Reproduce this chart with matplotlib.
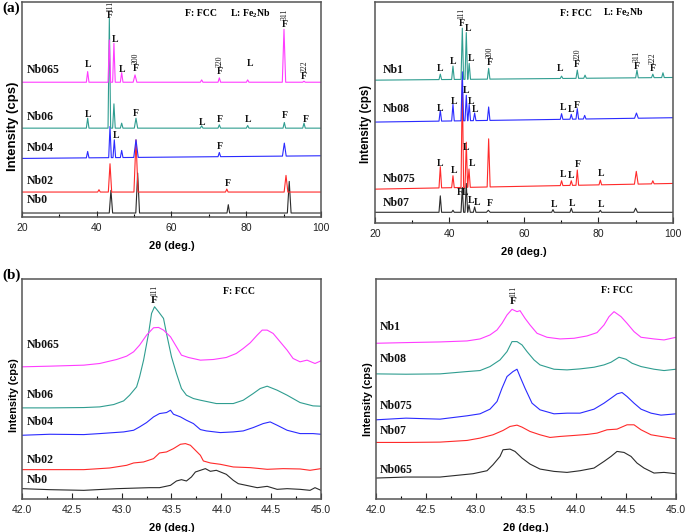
import matplotlib
matplotlib.use("Agg")
import matplotlib.pyplot as plt
from matplotlib.ticker import MultipleLocator, FormatStrFormatter

plt.rcParams["mathtext.fontset"] = "custom"
plt.rcParams["mathtext.rm"] = "Liberation Serif:bold"
plt.rcParams["mathtext.default"] = "rm"

SERIF = "Liberation Serif"
SANS = "Liberation Sans"

# line colours, bottom curve -> top curve
COLORS = ["#2b2b2b", "#ff2a2a", "#2a2aff", "#2f9d90", "#ff3cff"]

# =========================
# 1. DATA  (a) wide scans: baseline (left, right) + peaks (2theta, apex, [half width])
# =========================
A1_NAMES = ["Nb0", "Nb02", "Nb04", "Nb06", "Nb065"]
A1_BASE = [(12, 12), (75, 75), (176, 184), (267, 267), (405, 405)]
A1_PEAKS = [
    [(43.8, 80, 0.45), (50.95, 132, 0.5), (75.2, 37), (91.5, 107, 0.5)],
    [(40.6, 82), (43.55, 160, 0.45), (50.5, 232, 0.55), (74.8, 84), (90.64, 125, 0.5)],
    [(37.57, 197), (43.55, 272), (44.7, 232), (46.67, 200), (50.5, 232, 0.6),
     (72.8, 194), (90.19, 222, 0.5)],
    [(37.57, 297), (43.37, 597), (44.6, 340), (46.67, 282), (50.5, 297, 0.45),
     (68.07, 274), (72.8, 277), (80.38, 275), (90.19, 284), (95.45, 282)],
    [(37.57, 437), (43.37, 532), (44.6, 522), (46.67, 434), (50.24, 427, 0.5),
     (68.07, 412), (72.8, 418), (80.38, 412), (90.1, 564, 0.45), (95.45, 408)],
]

A2_NAMES = ["Nb07", "Nb075", "Nb08", "Nb1"]
A2_BASE = [(32, 32), (101, 118), (301, 314), (426, 434)]
A2_PEAKS = [
    [(37.54, 81), (40.94, 38), (43.45, 106), (44.52, 118), (45.24, 54), (46.76, 48),
     (50.43, 38, 0.5), (67.79, 40), (72.71, 44), (80.5, 38), (89.98, 44, 0.5)],
    [(37.54, 168), (40.94, 141), (43.45, 426), (44.52, 241), (45.24, 161),
     (50.52, 251, 0.4), (70.1, 126), (72.7, 126), (74.32, 158), (80.5, 128),
     (90.16, 154, 0.5), (94.6, 126)],
    [(37.54, 336), (40.94, 354), (43.45, 451), (44.52, 381), (45.3, 354), (46.76, 328),
     (50.52, 346), (70.1, 326), (72.7, 324), (74.32, 341), (76.3, 321), (90.2, 328, 0.5)],
    [(37.54, 444), (40.94, 468), (43.45, 581), (44.52, 568), (45.3, 476), (50.52, 461),
     (70.1, 438), (74.32, 456), (76.4, 441), (90.34, 456), (94.6, 444), (97.32, 448)],
]

# =========================
# 2. DATA  (b) zoom on the 111 peak: (2theta, intensity) traces
# =========================
B1_NAMES = ["Nb0", "Nb02", "Nb04", "Nb06", "Nb065"]
B1_X = [
    [42.00, 42.28, 42.62, 42.95, 43.28, 43.38, 43.49, 43.55, 43.60, 43.65, 43.70, 43.74, 43.79,
     43.84, 43.89, 43.95, 44.05, 44.12, 44.17, 44.25, 44.36, 44.46, 44.56, 44.66, 44.79, 44.89,
     44.94, 45.00],
    [42.00, 42.28, 42.62, 42.88, 43.05, 43.12, 43.22, 43.32, 43.38, 43.45, 43.52, 43.59, 43.64,
     43.69, 43.74, 43.79, 43.82, 43.89, 43.99, 44.12, 44.29, 44.46, 44.62, 44.79, 44.89, 45.00],
    [42.00, 42.28, 42.62, 42.78, 43.02, 43.12, 43.18, 43.25, 43.32, 43.38, 43.45, 43.49, 43.52,
     43.59, 43.65, 43.72, 43.79, 43.85, 43.99, 44.12, 44.22, 44.32, 44.42, 44.49, 44.56, 44.66,
     44.79, 44.92, 45.00],
    [42.00, 42.28, 42.62, 42.78, 42.92, 43.02, 43.08, 43.15, 43.18, 43.22, 43.27, 43.30, 43.33,
     43.37, 43.42, 43.45, 43.50, 43.55, 43.60, 43.65, 43.72, 43.79, 43.95, 44.12, 44.22, 44.32,
     44.39, 44.46, 44.56, 44.66, 44.79, 44.92, 45.00],
    [42.00, 42.28, 42.62, 42.78, 42.95, 43.05, 43.12, 43.18, 43.25, 43.32, 43.37, 43.42, 43.49,
     43.55, 43.60, 43.67, 43.79, 43.92, 44.05, 44.15, 44.22, 44.29, 44.36, 44.41, 44.46, 44.52,
     44.59, 44.66, 44.72, 44.79, 44.86, 44.94, 45.00],
]
B1_Y = [
    [31, 28, 26, 31, 34, 34, 41, 54, 58, 54, 66, 81, 86, 91, 83, 86, 74, 56, 46, 41, 34, 38, 29,
     31, 29, 26, 34, 26],
    [88, 88, 88, 93, 101, 108, 111, 121, 138, 141, 151, 164, 166, 161, 146, 131, 114, 108, 104,
     96, 94, 89, 91, 90, 86, 91],
    [191, 194, 193, 196, 201, 206, 216, 229, 246, 256, 259, 266, 254, 246, 236, 226, 208, 204,
     199, 201, 204, 214, 226, 231, 221, 206, 196, 196, 194],
    [273, 273, 274, 276, 283, 294, 311, 336, 366, 416, 496, 556, 576, 561, 541, 496, 426, 376,
     331, 311, 301, 296, 286, 286, 296, 316, 331, 338, 326, 311, 289, 279, 278],
    [396, 398, 401, 406, 418, 428, 441, 461, 491, 513, 514, 506, 486, 456, 431, 424, 416, 418,
     424, 436, 451, 468, 491, 506, 506, 496, 471, 446, 421, 411, 416, 406, 414],
]

B2_NAMES = ["Nb065", "Nb07", "Nb075", "Nb08", "Nb1"]
B2_X = [
    [42.00, 42.30, 42.64, 42.97, 43.11, 43.17, 43.24, 43.27, 43.34, 43.39, 43.46, 43.54, 43.64,
     43.78, 43.91, 44.04, 44.18, 44.28, 44.35, 44.41, 44.48, 44.55, 44.61, 44.68, 44.78, 44.88,
     45.00],
    [42.00, 42.30, 42.64, 42.91, 43.04, 43.17, 43.27, 43.34, 43.41, 43.46, 43.54, 43.64, 43.74,
     43.84, 43.98, 44.11, 44.21, 44.31, 44.41, 44.51, 44.58, 44.65, 44.75, 44.85, 45.00],
    [42.00, 42.30, 42.64, 42.91, 43.04, 43.14, 43.21, 43.26, 43.31, 43.37, 43.41, 43.44, 43.49,
     43.56, 43.64, 43.78, 43.91, 44.04, 44.18, 44.28, 44.35, 44.41, 44.46, 44.51, 44.58, 44.65,
     44.75, 44.85, 45.00],
    [42.00, 42.30, 42.64, 42.91, 43.04, 43.14, 43.24, 43.31, 43.36, 43.41, 43.46, 43.51, 43.58,
     43.64, 43.78, 43.91, 44.04, 44.18, 44.28, 44.35, 44.43, 44.50, 44.56, 44.65, 44.78, 44.88,
     45.00],
    [42.00, 42.30, 42.64, 42.91, 43.04, 43.14, 43.21, 43.26, 43.31, 43.36, 43.41, 43.44, 43.49,
     43.54, 43.61, 43.71, 43.84, 43.98, 44.11, 44.21, 44.28, 44.33, 44.38, 44.45, 44.51, 44.58,
     44.65, 44.78, 44.88, 45.00],
]
B2_Y = [
    [63, 66, 66, 76, 85, 103, 128, 148, 150, 143, 123, 105, 90, 83, 80, 85, 93, 113, 128, 143,
     140, 128, 108, 93, 78, 80, 76],
    [170, 170, 171, 176, 183, 193, 206, 218, 222, 216, 203, 193, 185, 188, 191, 194, 198, 208,
     210, 223, 223, 208, 193, 188, 181],
    [238, 243, 240, 250, 256, 270, 293, 333, 368, 383, 390, 368, 333, 288, 268, 256, 258, 258,
     270, 288, 303, 316, 320, 308, 288, 270, 258, 252, 256],
    [376, 375, 376, 383, 386, 398, 418, 443, 473, 473, 463, 443, 418, 403, 390, 388, 391, 396,
     403, 411, 426, 420, 408, 398, 390, 386, 390],
    [468, 470, 472, 475, 481, 493, 508, 528, 553, 570, 563, 566, 543, 523, 498, 486, 481, 483,
     490, 500, 523, 548, 563, 548, 528, 503, 486, 481, 478, 486],
]

# =========================
# 3. ANNOTATIONS  (x, y, text); hkl tuples sit on top of their F mark
# =========================
A1_LABEL_Y = [52, 107, 207, 302, 442]
A1_MARKS = [
    (44.9, 534, "L"), (37.75, 457, "L"), (46.9, 442, "L"), (81.0, 462, "L"),
    (37.75, 307, "L"), (50.5, 312, "F"), (68.1, 284, "L"), (73.0, 294, "F"), (80.6, 292, "L"),
    (90.2, 304, "F"), (95.9, 294, "F"),
    (45.1, 244, "L"), (73.0, 212, "F"), (75.0, 100, "F"),
]
A1_HKL = [(43.6, 604, "111"), (50.5, 447, "200"), (73.0, 437, "220"),
          (90.2, 579, "311"), (95.5, 422, "222")]

A2_LABEL_Y = [61, 131, 341, 456]
A2_MARKS = [
    (44.97, 581, "L"),
    (37.6, 461, "L"), (40.9, 481, "L"), (45.7, 491, "L"), (69.6, 461, "L"),
    (37.4, 341, "L"), (41.2, 361, "L"), (44.5, 396, "L"), (45.7, 363, "L"), (46.9, 338, "L"),
    (70.5, 344, "L"), (72.7, 338, "L"), (74.3, 351, "F"),
    (37.6, 178, "L"), (41.2, 158, "L"), (44.5, 226, "L"), (46.0, 176, "L"), (70.5, 144, "L"),
    (72.7, 141, "L"), (74.5, 174, "F"), (80.6, 148, "L"),
    (43.6, 90, "FL"), (45.8, 68, "L"), (47.3, 61, "L"), (50.8, 58, "F"), (68.2, 56, "L"),
    (72.9, 58, "L"), (80.8, 56, "L"),
]
A2_HKL = [(43.2, 596, "111"), (50.8, 478, "200"), (74.3, 473, "220"),
          (90.2, 468, "311"), (94.6, 461, "222")]

B1_LABEL_Y = [58, 118, 231, 311, 461]
B2_LABEL_Y = [88, 205, 278, 420, 518]


def xrd_trace(x0, x1, base, peaks, hw=0.35):
    bl, br = base
    def b(x):
        return bl + (br - bl) * (x - x0) / (x1 - x0)
    xs, ys = [x0], [bl]
    for pk in sorted(peaks):
        p, h = pk[0], pk[1]
        w = pk[2] if len(pk) > 2 else hw
        xs += [p - w, p, p + w]
        ys += [b(p - w), h, b(p + w)]
    xs.append(x1)
    ys.append(br)
    return xs, ys


def style_axes(ax, xlim, ylim, major, minor, fmt, ylab_size, ylab_y):
    ax.set_xlim(*xlim)
    ax.set_ylim(*ylim)
    ax.set_yticks([])
    ax.xaxis.set_major_locator(MultipleLocator(major))
    ax.xaxis.set_minor_locator(MultipleLocator(minor))
    ax.xaxis.set_major_formatter(FormatStrFormatter(fmt))
    ax.tick_params(axis="x", which="major", direction="in", length=4, width=0.8,
                   labelsize=7.5, pad=4, colors="#222222")
    ax.tick_params(axis="x", which="minor", direction="in", length=2.5, width=0.8)
    for lab in ax.get_xticklabels():
        lab.set_family(SANS)
    for sp in ax.spines.values():
        sp.set_color("#555555")
        sp.set_linewidth(1.1)
    ax.set_xlabel("2θ (deg.)", family=SANS, fontsize=8, fontweight="bold", labelpad=6)
    ax.set_ylabel("Intensity (cps)", family=SANS, fontsize=ylab_size, fontweight="bold",
                  labelpad=2, y=ylab_y)


def names(ax, xpos, ys, labels):
    for y, t in zip(ys, labels):
        ax.text(xpos, y, t, family=SERIF, fontweight="bold", fontsize=8.5,
                ha="left", va="center", color="#111111")


def marks(ax, items, hkl, fs=7):
    for x, y, t in items:
        ax.text(x, y, t, family=SERIF, fontweight="bold", fontsize=fs, ha="center",
                va="center", color="#111111")
    # "F" with its reflection index stacked above it
    for x, y, t in hkl:
        ax.text(x, y, "F", family=SERIF, fontweight="bold", fontsize=fs, ha="center",
                va="center", color="#111111")
        ax.annotate(t, (x, y), xytext=(0, 3.2), textcoords="offset points",
                    family=SERIF, fontsize=5.5, rotation=90, ha="center", va="bottom",
                    color="#111111")


fig = plt.figure(figsize=(6.85, 5.32), dpi=100)

# ---- (a) left
ax = fig.add_axes([0.0321, 0.5921, 0.4365, 0.4041])
for i, name in enumerate(A1_NAMES):
    xs, ys = xrd_trace(20, 100, A1_BASE[i], A1_PEAKS[i])
    ax.plot(xs, ys, color=COLORS[i], lw=0.8)
style_axes(ax, (20, 100), (0, 646), 20, 10, "%d", 9.5, 0.42)
names(ax, 21.3, A1_LABEL_Y, A1_NAMES)
marks(ax, A1_MARKS, A1_HKL)
ax.text(63.6, 612, "F: FCC", family=SERIF, fontweight="bold", fontsize=7, va="center")
ax.text(75.7, 612, "L: Fe$_2$Nb", family=SERIF, fontweight="bold", fontsize=7, va="center")

# ---- (a) right
ax = fig.add_axes([0.5474, 0.5808, 0.4350, 0.4154])
for i, name in enumerate(A2_NAMES):
    xs, ys = xrd_trace(20, 100, A2_BASE[i], A2_PEAKS[i])
    ax.plot(xs, ys, color=COLORS[i], lw=0.8)
style_axes(ax, (20, 100), (0, 659), 20, 10, "%d", 8.3, 0.45)
names(ax, 22.1, A2_LABEL_Y, A2_NAMES)
marks(ax, A2_MARKS, A2_HKL)
ax.text(69.6, 626, "F: FCC", family=SERIF, fontweight="bold", fontsize=7, va="center")
ax.text(81.2, 626, "L: Fe$_2$Nb", family=SERIF, fontweight="bold", fontsize=7, va="center")

# ---- (b) left
ax = fig.add_axes([0.0321, 0.0620, 0.4365, 0.4135])
for i, name in enumerate(B1_NAMES):
    ax.plot(B1_X[i], B1_Y[i], color=COLORS[i], lw=0.8)
style_axes(ax, (42, 45), (0, 659), 0.5, 0.25, "%.1f", 7.8, 0.47)
names(ax, 42.05, B1_LABEL_Y, B1_NAMES)
marks(ax, [], [(43.33, 594, "111")], fs=8)
ax.text(44.02, 621, "F: FCC", family=SERIF, fontweight="bold", fontsize=7, va="center")

# ---- (b) right
ax = fig.add_axes([0.5489, 0.0620, 0.4380, 0.4135])
for i, name in enumerate(B2_NAMES):
    ax.plot(B2_X[i], B2_Y[i], color=COLORS[i], lw=0.8)
style_axes(ax, (42, 45), (0, 661), 0.5, 0.25, "%.1f", 7.8, 0.455)
names(ax, 42.04, B2_LABEL_Y, B2_NAMES)
marks(ax, [], [(43.37, 593, "111")], fs=8)
ax.text(44.25, 626, "F: FCC", family=SERIF, fontweight="bold", fontsize=7, va="center")

fig.text(0.003, 0.985, "(a)", family=SERIF, fontweight="bold", fontsize=11, va="center")
fig.text(0.003, 0.482, "(b)", family=SERIF, fontweight="bold", fontsize=11, va="center")

fig.savefig("out.png", dpi=100)
